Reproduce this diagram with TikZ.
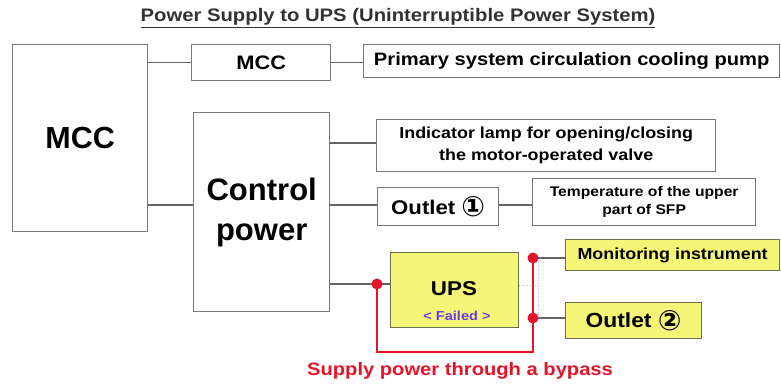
\documentclass[tikz,border=0pt]{standalone}
\usepackage{fontspec}
\setmainfont[FakeStretch=1.12]{Liberation Sans}
\newfontfamily\plainsans{Liberation Sans}
\newfontfamily\dvs{DejaVu Sans}
\newcommand{\circnum}[1]{\raisebox{-2.5pt}{\dvs\fontsize{28}{28}\selectfont #1}}
\definecolor{boxgray}{RGB}{120,120,120}
\definecolor{linegray}{RGB}{100,100,100}
\definecolor{uyellow}{RGB}{245,245,120}
\definecolor{ybord}{RGB}{110,110,80}
\definecolor{bypassred}{RGB}{230,20,40}
\definecolor{failblue}{RGB}{110,60,230}
\definecolor{titlegray}{RGB}{50,50,50}
\begin{document}
\begin{tikzpicture}[x=1pt,y=-1pt,
  box/.style={draw=boxgray,line width=1.4pt,fill=white,anchor=north west,inner sep=0pt,align=center,font=\bfseries},
  ybox/.style={box,draw=ybord,line width=1.2pt,fill=uyellow},
  conn/.style={draw=linegray,line width=1.1pt},
  red/.style={draw=bypassred,line width=2.7pt},
  rdot/.style={circle,fill=bypassred,inner sep=0pt,minimum size=11pt}]
\useasboundingbox (0,0) rectangle (781,385);
\node[font=\bfseries\fontsize{18.1}{20}\selectfont,text=titlegray] (title) at (398,18) {\underline{Power Supply to UPS (Uninterruptible Power System)}};
\node[box,minimum width=135pt,minimum height=187pt,font=\plainsans\bfseries\fontsize{30.5}{34}\selectfont] (bigmcc) at (12,44) {MCC};
\node[box,minimum width=139pt,minimum height=36pt,font=\bfseries\fontsize{19.5}{24}\selectfont] (mcc2) at (191,44) {MCC};
\node[box,minimum width=416pt,minimum height=33pt,font=\bfseries\fontsize{18}{20}\selectfont] (pump) at (363,44) {Primary system circulation cooling pump};
\node[box,minimum width=136pt,minimum height=199pt,font=\plainsans\bfseries\fontsize{31}{40}\selectfont] (ctrl) at (193,112) {Control\\power};
\node[box,minimum width=339pt,minimum height=52pt,font=\bfseries\fontsize{16}{22}\selectfont] (ind) at (376,119) {Indicator lamp for opening/closing\\the motor-operated valve};
\node[box,minimum width=121pt,minimum height=38pt,font=\bfseries\fontsize{19.8}{22}\selectfont] (out1) at (377,187) {Outlet \circnum{①}};
\node[box,minimum width=223pt,minimum height=47pt,font=\bfseries\fontsize{14}{18}\selectfont] (temp) at (532,178) {Temperature of the upper\\part of SFP};
\node[ybox,minimum width=128pt,minimum height=75pt] (ups) at (390,252) {};
\node[font=\bfseries\fontsize{20}{24}\selectfont] (upslabel) at (454,289) {UPS};
\node[font=\bfseries\fontsize{13}{14}\selectfont,text=failblue] (failed) at (457,316) {< Failed >};
\node[ybox,minimum width=214pt,minimum height=31pt,font=\bfseries\fontsize{16}{18}\selectfont] (mon) at (565,239) {Monitoring instrument};
\node[ybox,minimum width=136pt,minimum height=36pt,font=\bfseries\fontsize{20.4}{22}\selectfont] (out2) at (565,302) {Outlet \circnum{②}};
\node[font=\bfseries\fontsize{18}{20}\selectfont,text=bypassred] (bypass) at (460,371) {Supply power through a bypass};
% connectors
\draw[conn] (bigmcc.east |- mcc2.west) -- (mcc2.west);
\draw[conn] (mcc2.east) -- (mcc2.east -| pump.west);
\draw[conn] (bigmcc.east |- 0,205) -- (ctrl.west |- 0,205);
\draw[conn] (ctrl.east |- 0,143) -- (ind.west |- 0,143);
\draw[conn] (ctrl.east |- 0,205) -- (out1.west |- 0,205);
\draw[conn] (out1.east |- 0,205) -- (temp.west |- 0,205);
\coordinate (d1) at (377,284);
\coordinate (d2) at (533,258);
\coordinate (d3) at (533,318);
\coordinate (bl) at (377,352);
\coordinate (br) at (533,352);
\draw[conn] (ctrl.east |- d1) -- (ups.west |- d1);
\draw[draw=gray!50,line width=0.6pt,dotted] (ups.east |- 0,285) -- (538,285);
\draw[draw=gray!50,line width=0.6pt,dotted] (538,257) -- (538,319);
\draw[conn] (d2) -- (mon.west |- d2);
\draw[conn] (d3) -- (out2.west |- d3);
\draw[red] (d1) -- (bl) -- (br) -- (d2);
\node[rdot] at (d1) {};
\node[rdot] at (d2) {};
\node[rdot] at (d3) {};
\end{tikzpicture}
\end{document}
